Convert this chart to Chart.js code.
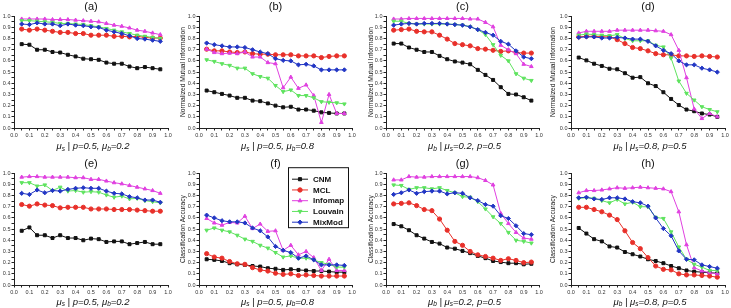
<!DOCTYPE html>
<html>
<head>
<meta charset="utf-8">
<script src="https://cdn.jsdelivr.net/npm/chart.js@4.4.1/dist/chart.umd.min.js"></script>
<style>
    html, body { margin: 0; padding: 0; background: #fff; overflow: hidden; }
    body { width: 731px; height: 308px; position: relative; }
    canvas { position: absolute; }
</style>
</head>
<body>
<script>
// x positions shared by every panel
const muValues = [0.05, 0.1, 0.15, 0.2, 0.25, 0.3, 0.35, 0.4, 0.45, 0.5, 0.55, 0.6, 0.65, 0.7, 0.75, 0.8, 0.85, 0.9, 0.95];
const seriesNames = ['CNM', 'MCL', 'Infomap', 'Louvain', 'MixMod'];

// (a) NMI, mu_s varies, p=0.5, mu_b=0.2
const a_CNM = [0.75, 0.745, 0.70, 0.70, 0.68, 0.675, 0.655, 0.64, 0.62, 0.615, 0.61, 0.585, 0.575, 0.575, 0.55, 0.535, 0.545, 0.535, 0.525];
const a_MCL = [0.885, 0.875, 0.885, 0.875, 0.865, 0.855, 0.855, 0.845, 0.845, 0.83, 0.83, 0.83, 0.82, 0.82, 0.815, 0.82, 0.81, 0.805, 0.805];
const a_Infomap = [0.975, 0.975, 0.975, 0.975, 0.97, 0.97, 0.97, 0.965, 0.96, 0.955, 0.95, 0.935, 0.92, 0.91, 0.895, 0.875, 0.865, 0.85, 0.835];
const a_Louvain = [0.96, 0.96, 0.955, 0.95, 0.945, 0.935, 0.935, 0.93, 0.925, 0.915, 0.905, 0.89, 0.875, 0.86, 0.845, 0.83, 0.82, 0.81, 0.80];
const a_MixMod = [0.93, 0.925, 0.94, 0.93, 0.93, 0.915, 0.93, 0.92, 0.915, 0.905, 0.9, 0.875, 0.86, 0.845, 0.825, 0.80, 0.795, 0.785, 0.775];

// (b) NMI, mu_s varies, p=0.5, mu_b=0.8
const b_CNM = [0.335, 0.32, 0.305, 0.29, 0.27, 0.27, 0.245, 0.24, 0.22, 0.20, 0.185, 0.19, 0.165, 0.165, 0.155, 0.14, 0.135, 0.13, 0.13];
const b_MCL = [0.705, 0.69, 0.69, 0.68, 0.675, 0.68, 0.665, 0.66, 0.66, 0.655, 0.655, 0.655, 0.645, 0.645, 0.645, 0.63, 0.64, 0.645, 0.645];
const b_Infomap = [0.705, 0.675, 0.665, 0.67, 0.665, 0.68, 0.635, 0.635, 0.585, 0.575, 0.36, 0.455, 0.355, 0.385, 0.29, 0.05, 0.30, 0.13, 0.13];
const b_Louvain = [0.61, 0.595, 0.575, 0.56, 0.535, 0.535, 0.485, 0.46, 0.445, 0.38, 0.325, 0.34, 0.29, 0.29, 0.27, 0.235, 0.23, 0.225, 0.215];
const b_MixMod = [0.76, 0.745, 0.735, 0.725, 0.725, 0.72, 0.70, 0.68, 0.665, 0.62, 0.605, 0.60, 0.565, 0.57, 0.555, 0.52, 0.52, 0.52, 0.52];

// (c) NMI, mu_b varies, mu_s=0.2, p=0.5
const c_CNM = [0.755, 0.755, 0.72, 0.70, 0.68, 0.68, 0.645, 0.615, 0.595, 0.585, 0.57, 0.52, 0.475, 0.43, 0.365, 0.305, 0.30, 0.275, 0.245];
const c_MCL = [0.875, 0.88, 0.885, 0.865, 0.86, 0.86, 0.83, 0.795, 0.755, 0.745, 0.735, 0.71, 0.705, 0.695, 0.685, 0.69, 0.675, 0.67, 0.67];
const c_Infomap = [0.975, 0.975, 0.98, 0.98, 0.98, 0.98, 0.98, 0.98, 0.98, 0.98, 0.975, 0.975, 0.945, 0.905, 0.74, 0.70, 0.665, 0.57, 0.55];
const c_Louvain = [0.955, 0.955, 0.935, 0.93, 0.93, 0.93, 0.93, 0.93, 0.925, 0.92, 0.905, 0.88, 0.835, 0.745, 0.65, 0.60, 0.485, 0.445, 0.425];
const c_MixMod = [0.92, 0.93, 0.935, 0.93, 0.935, 0.935, 0.935, 0.93, 0.925, 0.92, 0.905, 0.88, 0.855, 0.83, 0.775, 0.75, 0.69, 0.635, 0.62];

// (d) NMI, mu_b varies, mu_s=0.8, p=0.5
const d_CNM = [0.63, 0.605, 0.575, 0.555, 0.53, 0.525, 0.49, 0.45, 0.455, 0.40, 0.375, 0.32, 0.26, 0.205, 0.165, 0.15, 0.13, 0.12, 0.10];
const d_MCL = [0.815, 0.82, 0.82, 0.815, 0.815, 0.79, 0.755, 0.72, 0.71, 0.69, 0.665, 0.655, 0.655, 0.645, 0.645, 0.64, 0.645, 0.64, 0.635];
const d_Infomap = [0.85, 0.865, 0.865, 0.865, 0.865, 0.875, 0.875, 0.875, 0.875, 0.875, 0.87, 0.865, 0.835, 0.695, 0.45, 0.17, 0.085, 0.13, 0.10];
const d_Louvain = [0.83, 0.84, 0.835, 0.83, 0.825, 0.835, 0.80, 0.78, 0.78, 0.78, 0.74, 0.725, 0.625, 0.42, 0.31, 0.25, 0.19, 0.165, 0.145];
const d_MixMod = [0.81, 0.815, 0.815, 0.805, 0.805, 0.81, 0.805, 0.795, 0.795, 0.775, 0.735, 0.695, 0.665, 0.60, 0.565, 0.565, 0.535, 0.52, 0.50];

// (e) accuracy, mu_s varies, p=0.5, mu_b=0.2
const e_CNM = [0.485, 0.515, 0.445, 0.445, 0.42, 0.445, 0.42, 0.42, 0.40, 0.415, 0.41, 0.385, 0.39, 0.39, 0.365, 0.375, 0.385, 0.365, 0.365];
const e_MCL = [0.72, 0.705, 0.725, 0.715, 0.71, 0.69, 0.695, 0.695, 0.695, 0.68, 0.68, 0.68, 0.675, 0.675, 0.675, 0.67, 0.665, 0.66, 0.66];
const e_Infomap = [0.965, 0.97, 0.97, 0.965, 0.965, 0.965, 0.965, 0.96, 0.96, 0.945, 0.945, 0.93, 0.915, 0.905, 0.89, 0.875, 0.86, 0.845, 0.82];
const e_Louvain = [0.915, 0.915, 0.885, 0.895, 0.845, 0.875, 0.84, 0.845, 0.83, 0.835, 0.83, 0.805, 0.785, 0.795, 0.77, 0.775, 0.755, 0.745, 0.735];
const e_MixMod = [0.82, 0.81, 0.85, 0.825, 0.845, 0.84, 0.855, 0.865, 0.87, 0.865, 0.865, 0.84, 0.82, 0.815, 0.79, 0.78, 0.76, 0.76, 0.74];

// (f) accuracy, mu_s varies, p=0.5, mu_b=0.8
const f_CNM = [0.23, 0.225, 0.215, 0.195, 0.185, 0.18, 0.17, 0.165, 0.15, 0.145, 0.135, 0.14, 0.135, 0.13, 0.125, 0.125, 0.12, 0.115, 0.115];
const f_MCL = [0.28, 0.25, 0.24, 0.21, 0.19, 0.185, 0.155, 0.135, 0.125, 0.105, 0.095, 0.10, 0.085, 0.09, 0.085, 0.08, 0.08, 0.08, 0.08];
const f_Infomap = [0.595, 0.555, 0.535, 0.56, 0.555, 0.615, 0.505, 0.545, 0.48, 0.485, 0.31, 0.355, 0.27, 0.30, 0.245, 0.13, 0.23, 0.13, 0.13];
const f_Louvain = [0.49, 0.51, 0.49, 0.475, 0.445, 0.41, 0.39, 0.355, 0.33, 0.29, 0.25, 0.26, 0.24, 0.24, 0.225, 0.20, 0.185, 0.16, 0.16];
const f_MixMod = [0.625, 0.60, 0.575, 0.565, 0.565, 0.555, 0.51, 0.485, 0.43, 0.345, 0.31, 0.29, 0.24, 0.26, 0.225, 0.18, 0.18, 0.18, 0.175];

// (g) accuracy, mu_b varies, mu_s=0.2, p=0.5
const g_CNM = [0.545, 0.525, 0.49, 0.445, 0.415, 0.385, 0.37, 0.335, 0.325, 0.305, 0.285, 0.26, 0.24, 0.215, 0.205, 0.195, 0.195, 0.185, 0.19];
const g_MCL = [0.725, 0.73, 0.735, 0.71, 0.675, 0.665, 0.59, 0.49, 0.39, 0.355, 0.30, 0.27, 0.255, 0.24, 0.22, 0.235, 0.22, 0.20, 0.205];
const g_Infomap = [0.94, 0.94, 0.97, 0.965, 0.965, 0.97, 0.97, 0.97, 0.97, 0.97, 0.97, 0.96, 0.935, 0.895, 0.64, 0.55, 0.47, 0.42, 0.41];
const g_Louvain = [0.895, 0.89, 0.855, 0.87, 0.87, 0.86, 0.87, 0.845, 0.825, 0.79, 0.785, 0.745, 0.68, 0.61, 0.55, 0.47, 0.40, 0.39, 0.375];
const g_MixMod = [0.81, 0.825, 0.85, 0.82, 0.835, 0.84, 0.84, 0.815, 0.825, 0.82, 0.78, 0.755, 0.72, 0.705, 0.62, 0.595, 0.53, 0.46, 0.45];

// (h) accuracy, mu_b varies, mu_s=0.8, p=0.5
const h_CNM = [0.51, 0.46, 0.41, 0.39, 0.345, 0.335, 0.295, 0.275, 0.255, 0.23, 0.215, 0.195, 0.17, 0.15, 0.13, 0.12, 0.115, 0.11, 0.105];
const h_MCL = [0.695, 0.695, 0.675, 0.655, 0.625, 0.585, 0.485, 0.38, 0.325, 0.245, 0.17, 0.14, 0.135, 0.10, 0.09, 0.09, 0.085, 0.08, 0.07];
const h_Infomap = [0.825, 0.845, 0.845, 0.85, 0.86, 0.87, 0.865, 0.87, 0.875, 0.87, 0.865, 0.86, 0.835, 0.655, 0.36, 0.155, 0.125, 0.11, 0.10];
const h_Louvain = [0.775, 0.78, 0.775, 0.755, 0.735, 0.765, 0.725, 0.74, 0.70, 0.70, 0.605, 0.595, 0.475, 0.34, 0.23, 0.185, 0.16, 0.13, 0.13];
const h_MixMod = [0.78, 0.785, 0.77, 0.765, 0.78, 0.78, 0.77, 0.745, 0.735, 0.705, 0.60, 0.505, 0.44, 0.305, 0.23, 0.225, 0.18, 0.165, 0.15];

const FONT = "'Liberation Sans', Arial, sans-serif";
const colors = ['#111111', '#e8302a', '#e040e0', '#5fe35f', '#2236c4'];
const markers = ['rect', 'circle', 'triangle', 'triangle', 'rectRot'];
const markerRot = [0, 0, 0, 180, 0];

const NMI = 'Normalized Mutual Information';
const ACC = 'Classification Accuracy';

// layout of the 8 panels (page pixels)
const panels = [
    { tag: '(a)', top: 0, left: 0, plotLeft: 14, plotRight: 168, yTitle: '', xTitle: 'μ_s | p=0.5, μ_b=0.2', data: [a_CNM, a_MCL, a_Infomap, a_Louvain, a_MixMod] },
    { tag: '(b)', top: 0, left: 177, plotLeft: 199, plotRight: 352, yTitle: NMI, xTitle: 'μ_s | p=0.5, μ_b=0.8', data: [b_CNM, b_MCL, b_Infomap, b_Louvain, b_MixMod] },
    { tag: '(c)', top: 0, left: 365, plotLeft: 386, plotRight: 539, yTitle: NMI, xTitle: 'μ_b | μ_s=0.2, p=0.5', data: [c_CNM, c_MCL, c_Infomap, c_Louvain, c_MixMod] },
    { tag: '(d)', top: 0, left: 547, plotLeft: 571, plotRight: 725, yTitle: NMI, xTitle: 'μ_b | μ_s=0.8, p=0.5', data: [d_CNM, d_MCL, d_Infomap, d_Louvain, d_MixMod] },
    { tag: '(e)', top: 157, left: 0, plotLeft: 14, plotRight: 168, yTitle: '', xTitle: 'μ_s | p=0.5, μ_b=0.2', data: [e_CNM, e_MCL, e_Infomap, e_Louvain, e_MixMod] },
    { tag: '(f)', top: 157, left: 177, plotLeft: 199, plotRight: 352, yTitle: ACC, xTitle: 'μ_s | p=0.5, μ_b=0.8', data: [f_CNM, f_MCL, f_Infomap, f_Louvain, f_MixMod], legend: true },
    { tag: '(g)', top: 157, left: 365, plotLeft: 386, plotRight: 539, yTitle: ACC, xTitle: 'μ_b | μ_s=0.2, p=0.5', data: [g_CNM, g_MCL, g_Infomap, g_Louvain, g_MixMod] },
    { tag: '(h)', top: 157, left: 547, plotLeft: 571, plotRight: 725, yTitle: ACC, xTitle: 'μ_b | μ_s=0.8, p=0.5', data: [h_CNM, h_MCL, h_Infomap, h_Louvain, h_MixMod] }
];

// x axis title with subscripts ("_x" = subscript x)
const subTitlePlugin = {
    id: 'subTitle',
    afterDraw(chart, args, opts) {
        const ctx = chart.ctx, area = chart.chartArea;
        const segs = [];
        const t = opts.text;
        for (let i = 0; i < t.length; i++) {
            if (t[i] === '_') { segs.push({ s: t[i + 1], sub: true }); i++; }
            else if (segs.length && !segs[segs.length - 1].sub) segs[segs.length - 1].s += t[i];
            else segs.push({ s: t[i], sub: false });
        }
        const big = 'italic 9.5px ' + FONT, small = 'italic 6.5px ' + FONT;
        ctx.save();
        let total = 0;
        segs.forEach(g => { ctx.font = g.sub ? small : big; g.w = ctx.measureText(g.s).width; total += g.w; });
        let x = (area.left + area.right) / 2 + 2 - total / 2;
        const y = area.bottom + opts.offset;
        ctx.fillStyle = '#111';
        ctx.textBaseline = 'middle';
        segs.forEach(g => {
            ctx.font = g.sub ? small : big;
            ctx.fillText(g.s, x, g.sub ? y + 2.5 : y);
            x += g.w;
        });
        ctx.restore();
    }
};

// boxed legend drawn inside panel (f)
const legendBoxPlugin = {
    id: 'legendBox',
    afterDraw(chart, args, opts) {
        if (!opts.show) return;
        const ctx = chart.ctx, area = chart.chartArea;
        const x0 = area.left + 89, y0 = area.top - 6, w = 60, h = 60;
        ctx.save();
        ctx.fillStyle = '#fff';
        ctx.fillRect(x0, y0, w, h);
        ctx.strokeStyle = '#111';
        ctx.lineWidth = 1;
        ctx.strokeRect(x0 + 0.5, y0 + 0.5, w, h);
        chart.data.datasets.forEach((ds, i) => {
            const y = y0 + 12 + i * 10.75;
            ctx.strokeStyle = ds.borderColor;
            ctx.fillStyle = ds.borderColor;
            ctx.lineWidth = 1;
            ctx.beginPath();
            ctx.moveTo(x0 + 4, y);
            ctx.lineTo(x0 + 20, y);
            ctx.stroke();
            Chart.helpers.drawPoint(ctx, { pointStyle: ds.pointStyle, rotation: ds.pointRotation, radius: 2.2, borderWidth: 1 }, x0 + 12, y);
            ctx.fillStyle = '#111';
            ctx.font = 'bold 8px ' + FONT;
            ctx.textBaseline = 'middle';
            ctx.fillText(ds.label, x0 + 25, y + 0.5);
        });
        ctx.restore();
    }
};

function tickLabel(v) {
    return Math.round(v * 20) % 2 === 0 ? v.toFixed(1) : '';
}

const tickFont = { size: 5.5, family: FONT };

panels.forEach(p => {
    const bottomRow = p.top > 0;
    const height = bottomRow ? 151 : 154;
    const padR = Math.min(8, 731 - p.plotRight);
    const width = p.plotRight + padR - p.left;

    const canvas = document.createElement('canvas');
    canvas.width = width;
    canvas.height = height;
    canvas.style.left = p.left + 'px';
    canvas.style.top = p.top + 'px';
    canvas.style.width = width + 'px';
    canvas.style.height = height + 'px';
    document.body.appendChild(canvas);

    const datasets = p.data.map((vals, i) => ({
        label: seriesNames[i],
        data: muValues.map((x, k) => ({ x: x, y: vals[k] })),
        borderColor: colors[i],
        backgroundColor: colors[i],
        borderWidth: 1,
        pointStyle: markers[i],
        pointRotation: markerRot[i],
        pointRadius: 2.1,
        pointBorderWidth: 1,
        fill: false,
        tension: 0,
        order: 5 - i
    }));

    new Chart(canvas, {
        type: 'line',
        data: { datasets: datasets },
        options: {
            responsive: false,
            animation: false,
            devicePixelRatio: 1,
            layout: { padding: { left: 0, right: padR, top: 0, bottom: 0 } },
            scales: {
                x: {
                    type: 'linear',
                    min: 0,
                    max: 1,
                    afterFit: s => { s.height = bottomRow ? 23 : 26; },
                    border: { display: true, color: '#222', width: 1 },
                    grid: { display: true, drawOnChartArea: false, drawTicks: true, tickLength: 2.5, color: '#222' },
                    ticks: { stepSize: 0.05, autoSkip: false, maxRotation: 0, padding: 1.5, font: tickFont, color: '#333', callback: tickLabel }
                },
                y: {
                    type: 'linear',
                    min: 0,
                    max: 1,
                    afterFit: s => { s.width = p.plotLeft - p.left; },
                    border: { display: true, color: '#222', width: 1 },
                    grid: { display: true, drawOnChartArea: false, drawTicks: true, tickLength: 2.5, color: '#222' },
                    ticks: { stepSize: 0.05, autoSkip: false, padding: 1, font: tickFont, color: '#333', callback: tickLabel },
                    title: {
                        display: p.yTitle !== '',
                        text: p.yTitle,
                        color: '#222',
                        font: { size: 6.6, family: FONT },
                        padding: { top: 2, bottom: 0 }
                    }
                }
            },
            plugins: {
                legend: { display: false },
                tooltip: { enabled: false },
                title: {
                    display: true,
                    text: p.tag,
                    fullSize: false,
                    color: '#111',
                    font: { size: 11, family: FONT, weight: 'normal' },
                    padding: { top: 0, bottom: 3 }
                },
                subTitle: { text: p.xTitle, offset: bottomRow ? 17 : 18.5 },
                legendBox: { show: !!p.legend }
            }
        },
        plugins: [subTitlePlugin, legendBoxPlugin]
    });
});
</script>
</body>
</html>
